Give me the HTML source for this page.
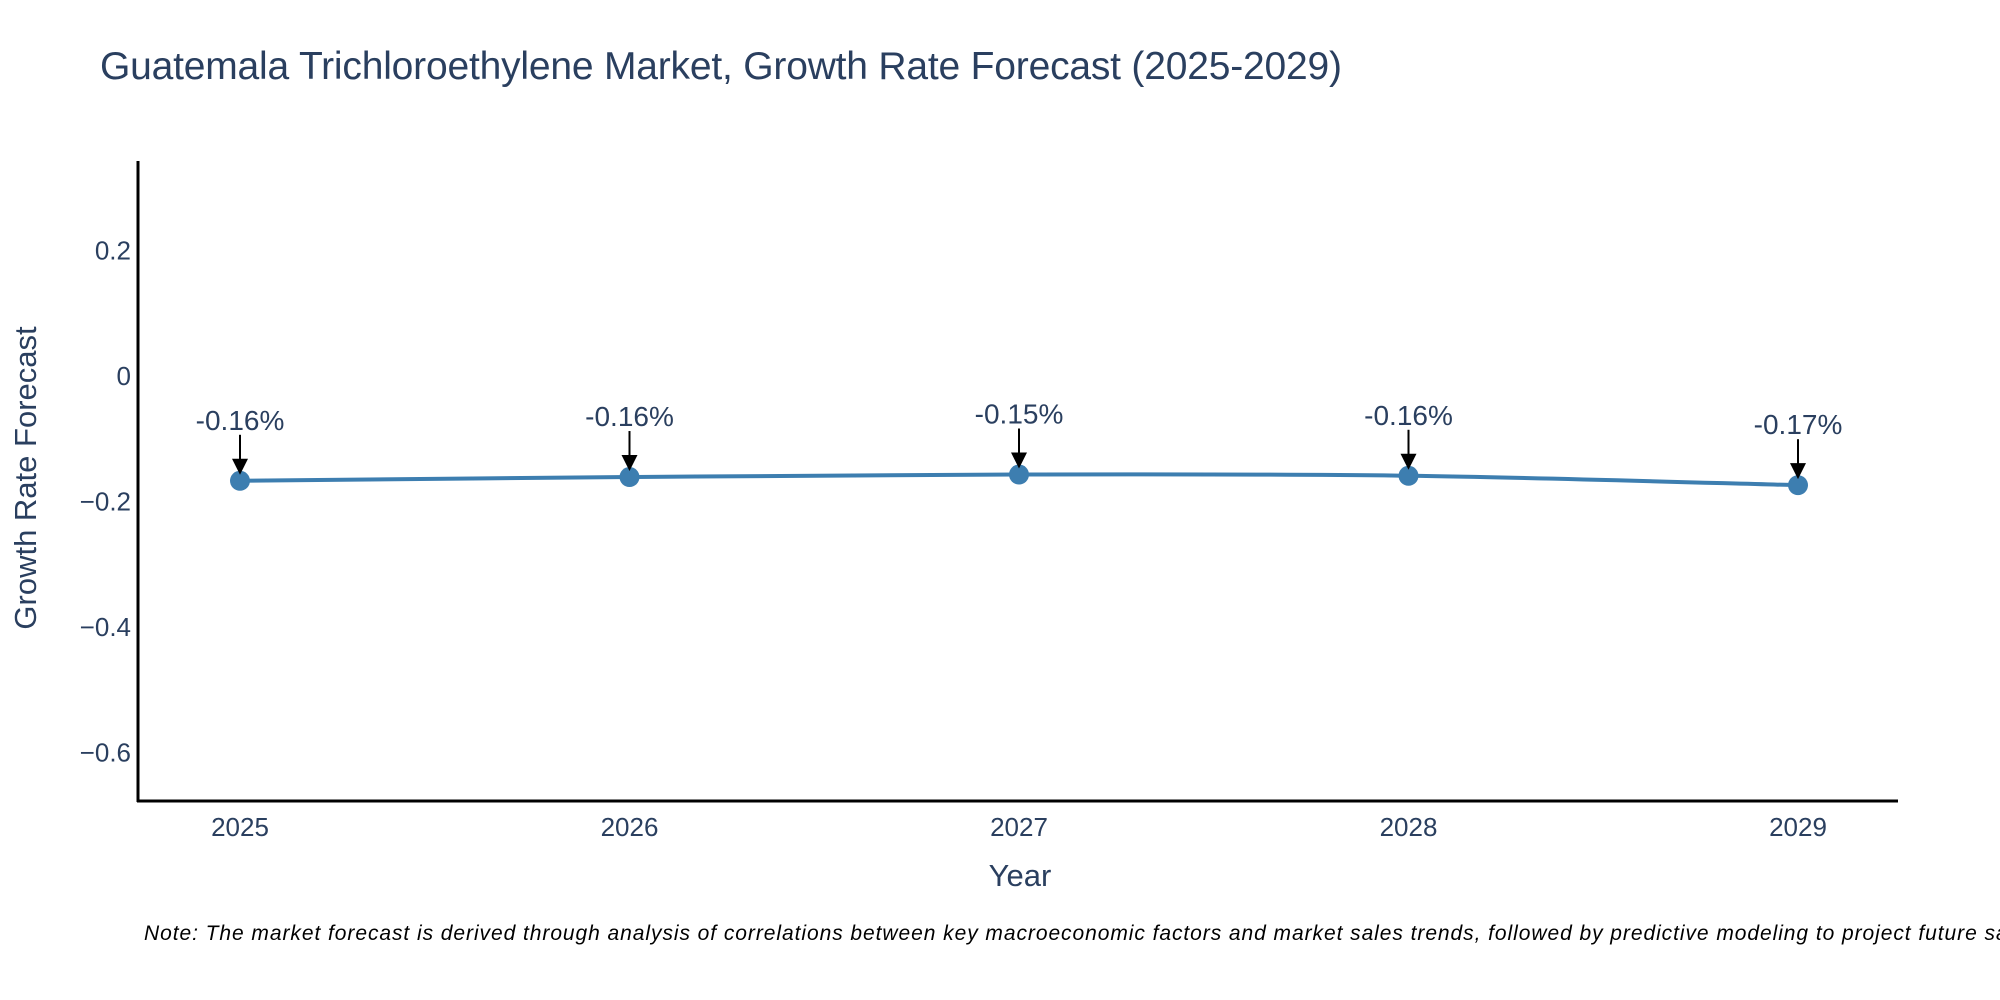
<!DOCTYPE html>
<html><head><meta charset="utf-8"><style>
html,body{margin:0;padding:0;background:#fff;}
svg{display:block;font-family:"Liberation Sans","DejaVu Sans",sans-serif;}
</style></head><body>
<svg id="chart" width="2000" height="1000" viewBox="0 0 2000 1000">
<text x="100" y="79" font-size="39" fill="#2a3f5f" textLength="1242">Guatemala Trichloroethylene Market, Growth Rate Forecast (2025-2029)</text>
<g id="yticks"></g>
<g id="xticks"></g>
<line x1="138" y1="161" x2="138" y2="802" stroke="#000" stroke-width="3"/>
<line x1="137" y1="801" x2="1898" y2="801" stroke="#000" stroke-width="3"/>
<text transform="translate(36,478) rotate(-90)" text-anchor="middle" font-size="31" fill="#2a3f5f">Growth Rate Forecast</text>
<text x="1020" y="886" text-anchor="middle" font-size="31" fill="#2a3f5f">Year</text>
<g id="series"></g>
<text x="144" y="940" font-size="21" font-style="italic" fill="#000" textLength="1900">Note: The market forecast is derived through analysis of correlations between key macroeconomic factors and market sales trends, followed by predictive modeling to project future sales.</text>
</svg>
<script>
const years = ["2025","2026","2027","2028","2029"];
const values = [-0.167, -0.161, -0.157, -0.159, -0.174];
const labels = ["-0.16%","-0.16%","-0.15%","-0.16%","-0.17%"];
const yTickVals = [0.2, 0, -0.2, -0.4, -0.6];
const yTickText = ["0.2","0","\u22120.2","\u22120.4","\u22120.6"];

const NS = "http://www.w3.org/2000/svg";
function xPos(i){ return 240 + i * (1798 - 240) / (years.length - 1); }
function yPos(v){ return 376 - v * 627.5; }
function mk(tag, attrs, parent){ const e = document.createElementNS(NS, tag); for (const k in attrs) e.setAttribute(k, attrs[k]); parent.appendChild(e); return e; }

const yt = document.getElementById('yticks');
yTickVals.forEach((v, i) => {
  const t = mk('text', {x: 131, y: yPos(v) + 9, 'text-anchor': 'end', 'font-size': 26, fill: '#2a3f5f'}, yt);
  
  
  t.textContent = yTickText[i];
});
const xt = document.getElementById('xticks');
years.forEach((y, i) => {
  const t = mk('text', {x: xPos(i), y: 836, 'text-anchor': 'middle', 'font-size': 26, fill: '#2a3f5f'}, xt);
  
  
  t.textContent = y;
});

const s = document.getElementById('series');
const pts = values.map((v, i) => [xPos(i), yPos(v)]);
let d = "M" + pts[0][0] + "," + pts[0][1];
for (let i = 0; i < pts.length - 1; i++) {
  const p0 = pts[Math.max(0, i - 1)], p1 = pts[i], p2 = pts[i + 1], p3 = pts[Math.min(pts.length - 1, i + 2)];
  const c1x = p1[0] + (p2[0] - p0[0]) / 6, c1y = p1[1] + (p2[1] - p0[1]) / 6;
  const c2x = p2[0] - (p3[0] - p1[0]) / 6, c2y = p2[1] - (p3[1] - p1[1]) / 6;
  d += " C" + c1x + "," + c1y + " " + c2x + "," + c2y + " " + p2[0] + "," + p2[1];
}
const line = mk('path', {d: d, fill: 'none', stroke: '#3d7eb0', 'stroke-width': 4}, s);


pts.forEach((p, i) => {
  const c = mk('circle', {cx: p[0], cy: p[1], r: 10, fill: '#3d7eb0'}, s);
  
  
  const a = mk('line', {x1: p[0], y1: p[1] - 46, x2: p[0], y2: p[1] - 20, stroke: '#000', 'stroke-width': 2}, s);
  
  
  const h = mk('polygon', {points: (p[0]-8)+","+(p[1]-22)+" "+(p[0]+8)+","+(p[1]-22)+" "+p[0]+","+(p[1]-6), fill: '#000'}, s);
  
  
  const t = mk('text', {x: p[0], y: p[1] - 51, 'text-anchor': 'middle', 'font-size': 28, fill: '#2a3f5f'}, s);
  
  
  t.textContent = labels[i];
});
</script>
</body></html>
